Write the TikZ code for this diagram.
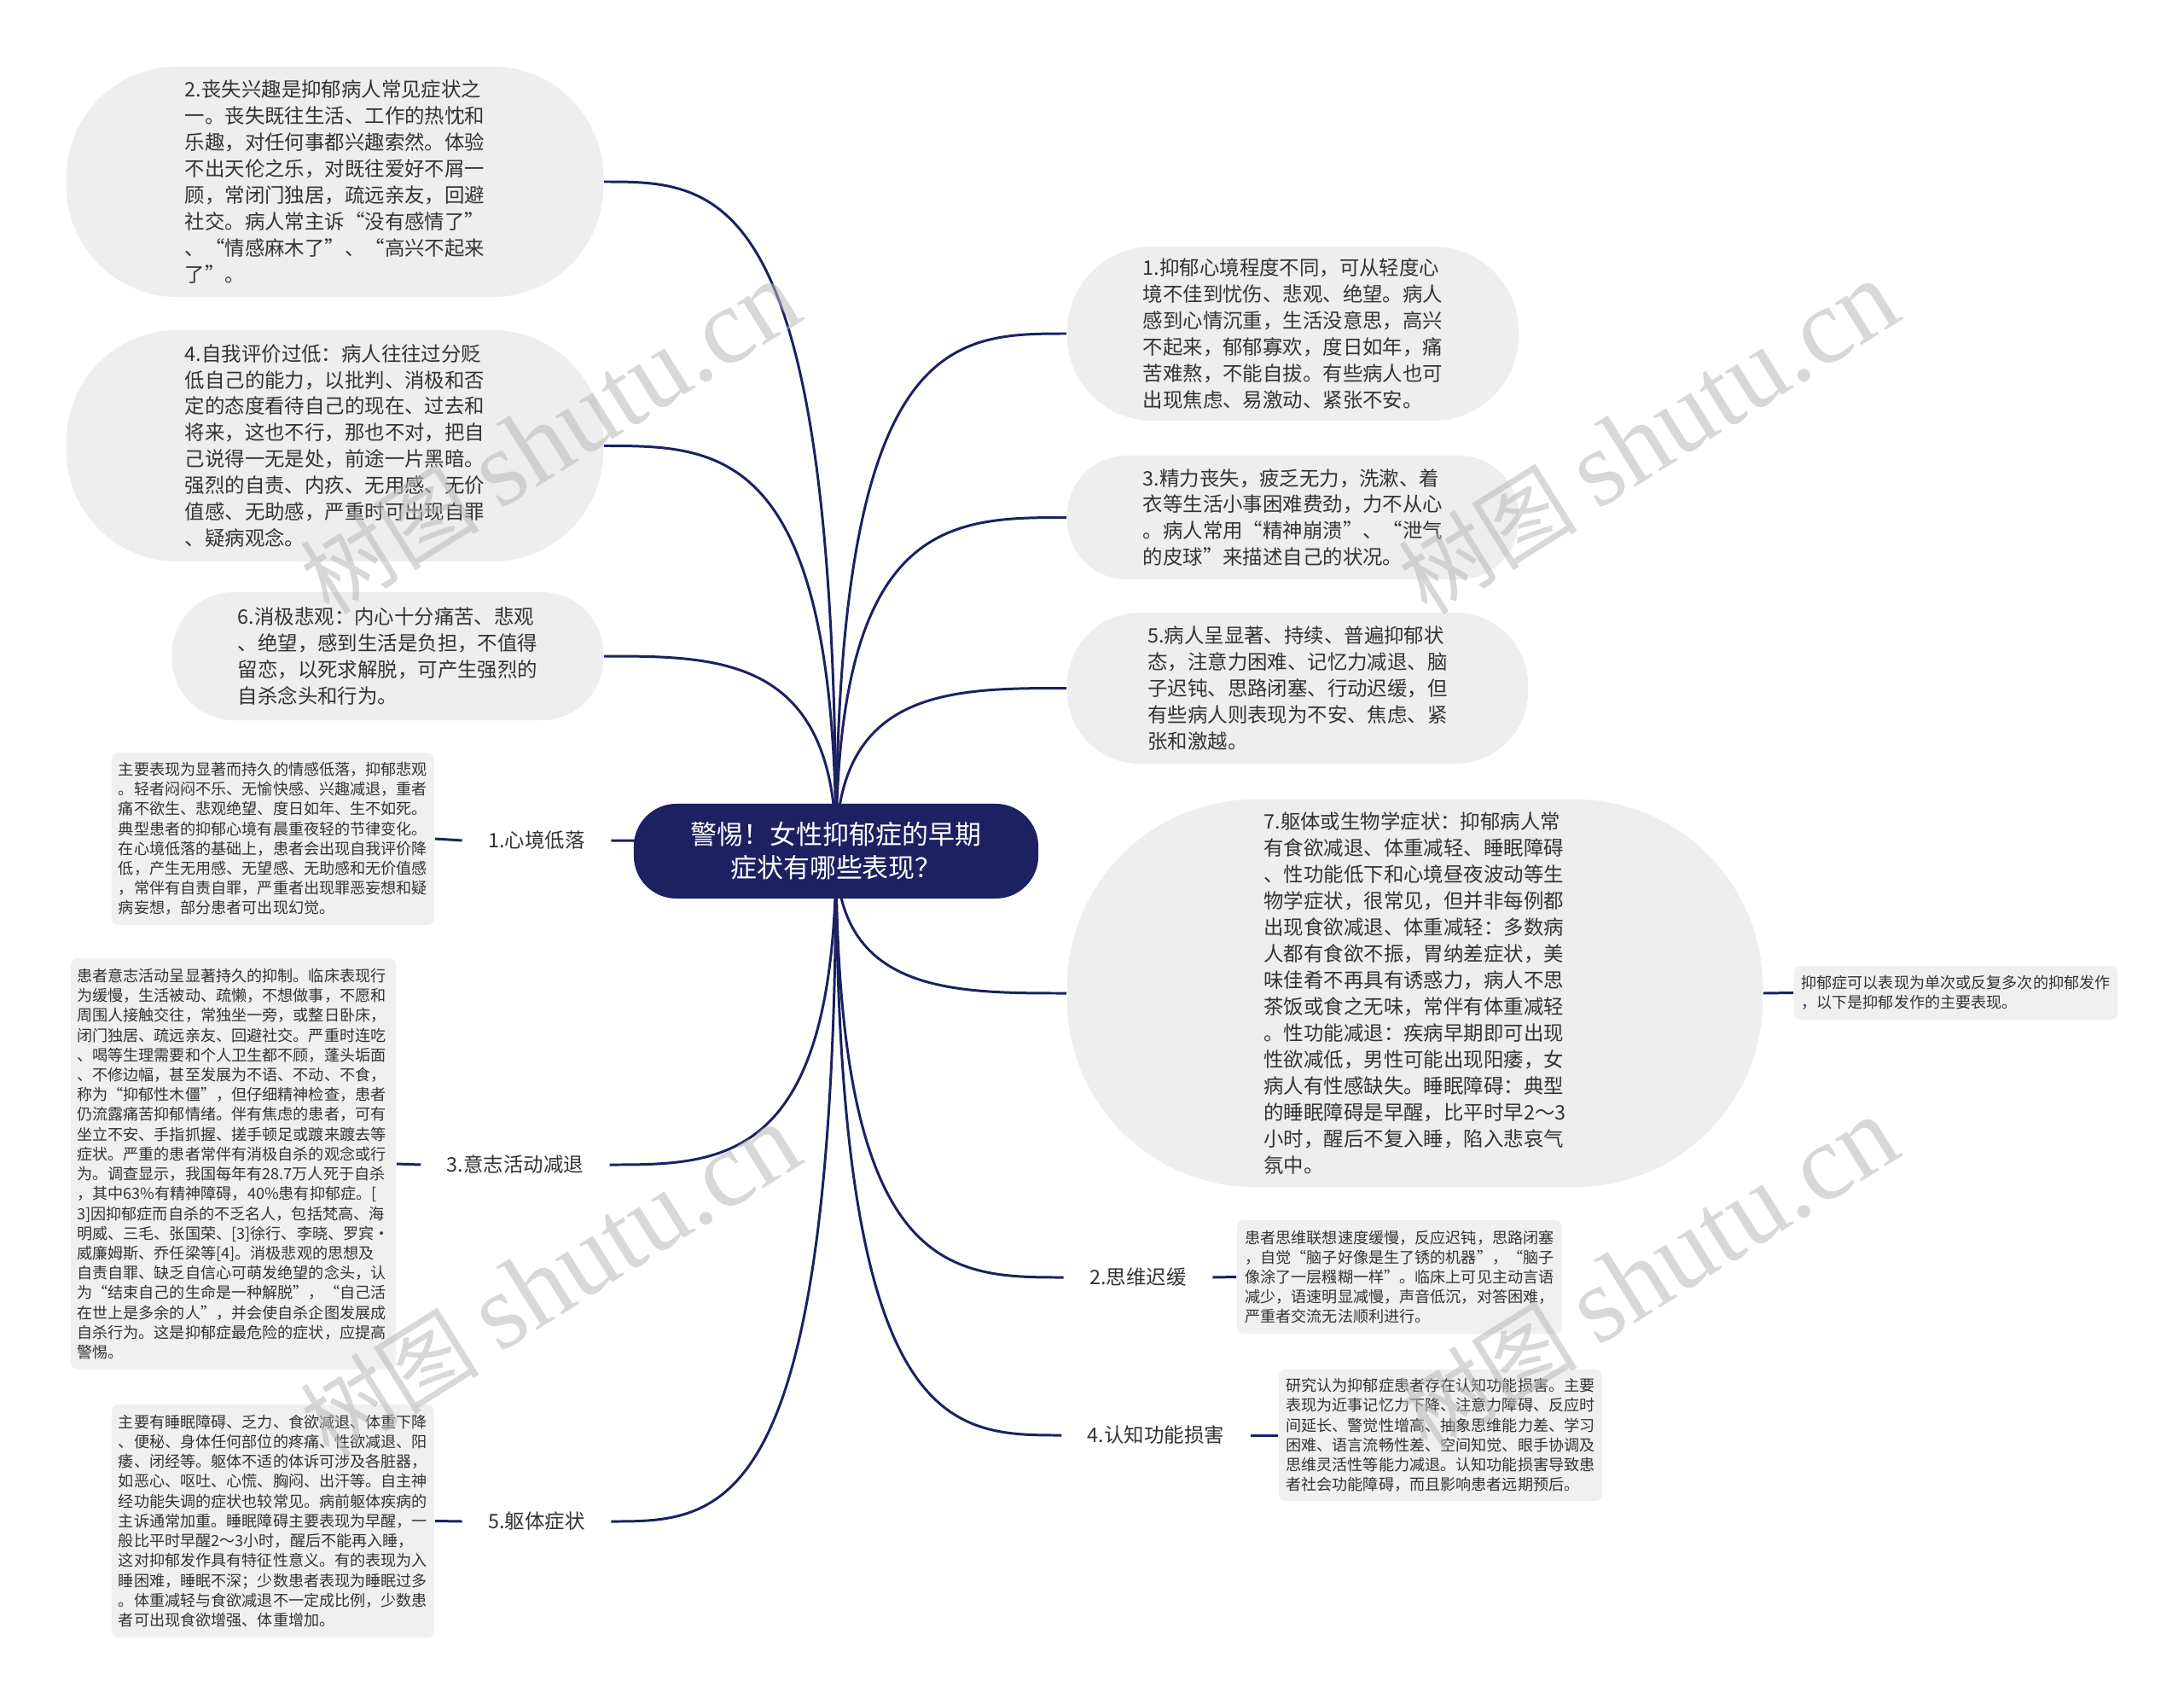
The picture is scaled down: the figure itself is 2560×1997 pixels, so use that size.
\documentclass[tikz,border=0pt]{standalone}
\usepackage{fontspec}
\setmainfont{Noto Sans CJK SC}
\newfontfamily\wmserif{Liberation Serif}
\usepackage{xcolor}
\usepackage{tikz}
\usetikzlibrary{calc, backgrounds}
\definecolor{hubblue}{HTML}{1B2161}
\definecolor{linkblue}{HTML}{1B2161}
\definecolor{bubblebg}{HTML}{EEEEEE}
\definecolor{notebg}{HTML}{F0F0F0}
\definecolor{inktext}{HTML}{333333}
\definecolor{marktext}{HTML}{B8B8B8}
\tikzset{
    hub/.style={rectangle, fill=hubblue, text=white, align=center, inner sep=0pt, minimum width=4.74cm, minimum height=1.11cm, rounded corners=0.5cm, font=\fontsize{8.8pt}{11.1pt}\selectfont},
    bubble/.style={rectangle, fill=bubblebg, text=inktext, align=left, inner sep=0pt, font=\fontsize{6.66pt}{8.8pt}\selectfont},
    note/.style={rectangle, fill=notebg, text=inktext, align=left, inner sep=0pt, rounded corners=0.8mm, font=\fontsize{5.15pt}{6.6pt}\selectfont},
    branch/.style={inner xsep=0.3cm, inner ysep=2pt, text=inktext, font=\fontsize{6.66pt}{8pt}\selectfont},
    link/.style={draw=linkblue, line width=0.85pt},
    wmark/.style={text=marktext, opacity=0.55, rotate=32, inner sep=0pt}
}

\begin{document}
\begin{tikzpicture}[x=0.01cm, y=-0.01cm]
    \useasboundingbox (0,0) rectangle (2560,1997);

    \node [hub] (hub) at (980,997.5) {警惕！女性抑郁症的早期\\症状有哪些表现？};

    \node [bubble, minimum width=6.29cm, minimum height=2.70cm, rounded corners=1.3cm] (lossint) at (392.5,213) {2.丧失兴趣是抑郁病人常见症状之\\一。丧失既往生活、工作的热忱和\\乐趣，对任何事都兴趣索然。体验\\不出天伦之乐，对既往爱好不屑一\\顾，常闭门独居，疏远亲友，回避\\社交。病人常主诉“没有感情了”\\、“情感麻木了”、“高兴不起来\\了”。};
    \node [bubble, minimum width=6.29cm, minimum height=2.71cm, rounded corners=1.3cm] (selfeval) at (392.5,522.5) {4.自我评价过低：病人往往过分贬\\低自己的能力，以批判、消极和否\\定的态度看待自己的现在、过去和\\将来，这也不行，那也不对，把自\\己说得一无是处，前途一片黑暗。\\强烈的自责、内疚、无用感、无价\\值感、无助感，严重时可出现自罪\\、疑病观念。};
    \node [bubble, minimum width=5.05cm, minimum height=1.50cm, rounded corners=0.72cm] (pessim) at (454.5,769) {6.消极悲观：内心十分痛苦、悲观\\、绝望，感到生活是负担，不值得\\留恋，以死求解脱，可产生强烈的\\自杀念头和行为。};

    \node [bubble, minimum width=5.29cm, minimum height=2.04cm, rounded corners=1.0cm] (mood) at (1515.5,391) {1.抑郁心境程度不同，可从轻度心\\境不佳到忧伤、悲观、绝望。病人\\感到心情沉重，生活没意思，高兴\\不起来，郁郁寡欢，度日如年，痛\\苦难熬，不能自拔。有些病人也可\\出现焦虑、易激动、紧张不安。};
    \node [bubble, minimum width=5.29cm, minimum height=1.45cm, rounded corners=0.7cm] (energy) at (1515.5,606.5) {3.精力丧失，疲乏无力，洗漱、着\\衣等生活小事困难费劲，力不从心\\。病人常用“精神崩溃”、“泄气\\的皮球”来描述自己的状况。};
    \node [bubble, minimum width=5.40cm, minimum height=1.77cm, rounded corners=0.85cm] (persist) at (1521,806.5) {5.病人呈显著、持续、普遍抑郁状\\态，注意力困难、记忆力减退、脑\\子迟钝、思路闭塞、行动迟缓，但\\有些病人则表现为不安、焦虑、紧\\张和激越。};
    \node [bubble, minimum width=8.15cm, minimum height=4.54cm, rounded corners=2.2cm] (somatic) at (1658.5,1164) {7.躯体或生物学症状：抑郁病人常\\有食欲减退、体重减轻、睡眠障碍\\、性功能低下和心境昼夜波动等生\\物学症状，很常见，但并非每例都\\出现食欲减退、体重减轻：多数病\\人都有食欲不振，胃纳差症状，美\\味佳肴不再具有诱惑力，病人不思\\茶饭或食之无味，常伴有体重减轻\\。性功能减退：疾病早期即可出现\\性欲减低，男性可能出现阳痿，女\\病人有性感缺失。睡眠障碍：典型\\的睡眠障碍是早醒，比平时早2～3\\小时，醒后不复入睡，陷入悲哀气\\氛中。};
    \node [note, minimum width=3.79cm, minimum height=0.63cm] (episode) at (2292.5,1163.5) {抑郁症可以表现为单次或反复多次的抑郁发作\\，以下是抑郁发作的主要表现。};

    \node [branch] (lowmood) at (629,985) {1.心境低落};
    \node [branch] (will) at (604,1365) {3.意志活动减退};
    \node [branch] (body) at (629,1783) {5.躯体症状};
    \node [branch] (think) at (1334,1497) {2.思维迟缓};
    \node [branch] (cogn) at (1355,1682) {4.认知功能损害};

    \node [note, minimum width=3.78cm, minimum height=2.02cm] (lowmoodtxt) at (320,983) {主要表现为显著而持久的情感低落，抑郁悲观\\。轻者闷闷不乐、无愉快感、兴趣减退，重者\\痛不欲生、悲观绝望、度日如年、生不如死。\\典型患者的抑郁心境有晨重夜轻的节律变化。\\在心境低落的基础上，患者会出现自我评价降\\低，产生无用感、无望感、无助感和无价值感\\，常伴有自责自罪，严重者出现罪恶妄想和疑\\病妄想，部分患者可出现幻觉。};
    \node [note, minimum width=3.81cm, minimum height=4.82cm] (willtxt) at (273.5,1364) {患者意志活动呈显著持久的抑制。临床表现行\\为缓慢，生活被动、疏懒，不想做事，不愿和\\周围人接触交往，常独坐一旁，或整日卧床，\\闭门独居、疏远亲友、回避社交。严重时连吃\\、喝等生理需要和个人卫生都不顾，蓬头垢面\\、不修边幅，甚至发展为不语、不动、不食，\\称为“抑郁性木僵”，但仔细精神检查，患者\\仍流露痛苦抑郁情绪。伴有焦虑的患者，可有\\坐立不安、手指抓握、搓手顿足或踱来踱去等\\症状。严重的患者常伴有消极自杀的观念或行\\为。调查显示，我国每年有28.7万人死于自杀\\，其中63\%有精神障碍，40\%患有抑郁症。[\\3]因抑郁症而自杀的不乏名人，包括梵高、海\\明威、三毛、张国荣、[3]徐行、李晓、罗宾·\\威廉姆斯、乔任梁等[4]。消极悲观的思想及\\自责自罪、缺乏自信心可萌发绝望的念头，认\\为“结束自己的生命是一种解脱”，“自己活\\在世上是多余的人”，并会使自杀企图发展成\\自杀行为。这是抑郁症最危险的症状，应提高\\警惕。};
    \node [note, minimum width=3.78cm, minimum height=2.73cm] (bodytxt) at (320,1782.5) {主要有睡眠障碍、乏力、食欲减退、体重下降\\、便秘、身体任何部位的疼痛、性欲减退、阳\\痿、闭经等。躯体不适的体诉可涉及各脏器，\\如恶心、呕吐、心慌、胸闷、出汗等。自主神\\经功能失调的症状也较常见。病前躯体疾病的\\主诉通常加重。睡眠障碍主要表现为早醒，一\\般比平时早醒2～3小时，醒后不能再入睡，\\这对抑郁发作具有特征性意义。有的表现为入\\睡困难，睡眠不深；少数患者表现为睡眠过多\\。体重减轻与食欲减退不一定成比例，少数患\\者可出现食欲增强、体重增加。};
    \node [note, minimum width=3.81cm, minimum height=1.33cm] (thinktxt) at (1640.5,1496.5) {患者思维联想速度缓慢，反应迟钝，思路闭塞\\，自觉“脑子好像是生了锈的机器”，“脑子\\像涂了一层糨糊一样”。临床上可见主动言语\\减少，语速明显减慢，声音低沉，对答困难，\\严重者交流无法顺利进行。};
    \node [note, minimum width=3.79cm, minimum height=1.54cm] (cogntxt) at (1688.5,1682) {研究认为抑郁症患者存在认知功能损害。主要\\表现为近事记忆力下降、注意力障碍、反应时\\间延长、警觉性增高、抽象思维能力差、学习\\困难、语言流畅性差、空间知觉、眼手协调及\\思维灵活性等能力减退。认知功能损害导致患\\者社会功能障碍，而且影响患者远期预后。};

    \begin{scope}[on background layer]
        \fill [white] (0,0) rectangle (2560,1997);
        \foreach \t in {lossint.east, selfeval.east, pessim.east, lowmood.east, will.east, body.east, mood.west, energy.west, persist.west, somatic.west, think.west, cogn.west}
            \draw [link] (hub.center) .. controls (hub.center |- \t) and ($(hub.center |- \t)!0.5!(\t)$) .. (\t);
    \end{scope}
    \draw [link] (lowmoodtxt.east) -- (lowmood.west);
    \draw [link] (willtxt.east) -- (will.west);
    \draw [link] (bodytxt.east) -- (body.west);
    \draw [link] (think.east) -- (thinktxt.west);
    \draw [link] (cogn.east) -- (cogntxt.west);
    \draw [link] (somatic.east) -- (episode.west);

    \node [wmark] (wm1) at (645,514) {\fontsize{30pt}{30pt}\selectfont 树图 {\wmserif\fontsize{36pt}{36pt}\selectfont shutu.cn}};
    \node [wmark] (wm2) at (1932,514) {\fontsize{30pt}{30pt}\selectfont 树图 {\wmserif\fontsize{36pt}{36pt}\selectfont shutu.cn}};
    \node [wmark] (wm3) at (645,1502) {\fontsize{30pt}{30pt}\selectfont 树图 {\wmserif\fontsize{36pt}{36pt}\selectfont shutu.cn}};
    \node [wmark] (wm4) at (1932,1494) {\fontsize{30pt}{30pt}\selectfont 树图 {\wmserif\fontsize{36pt}{36pt}\selectfont shutu.cn}};
\end{tikzpicture}
\end{document}
